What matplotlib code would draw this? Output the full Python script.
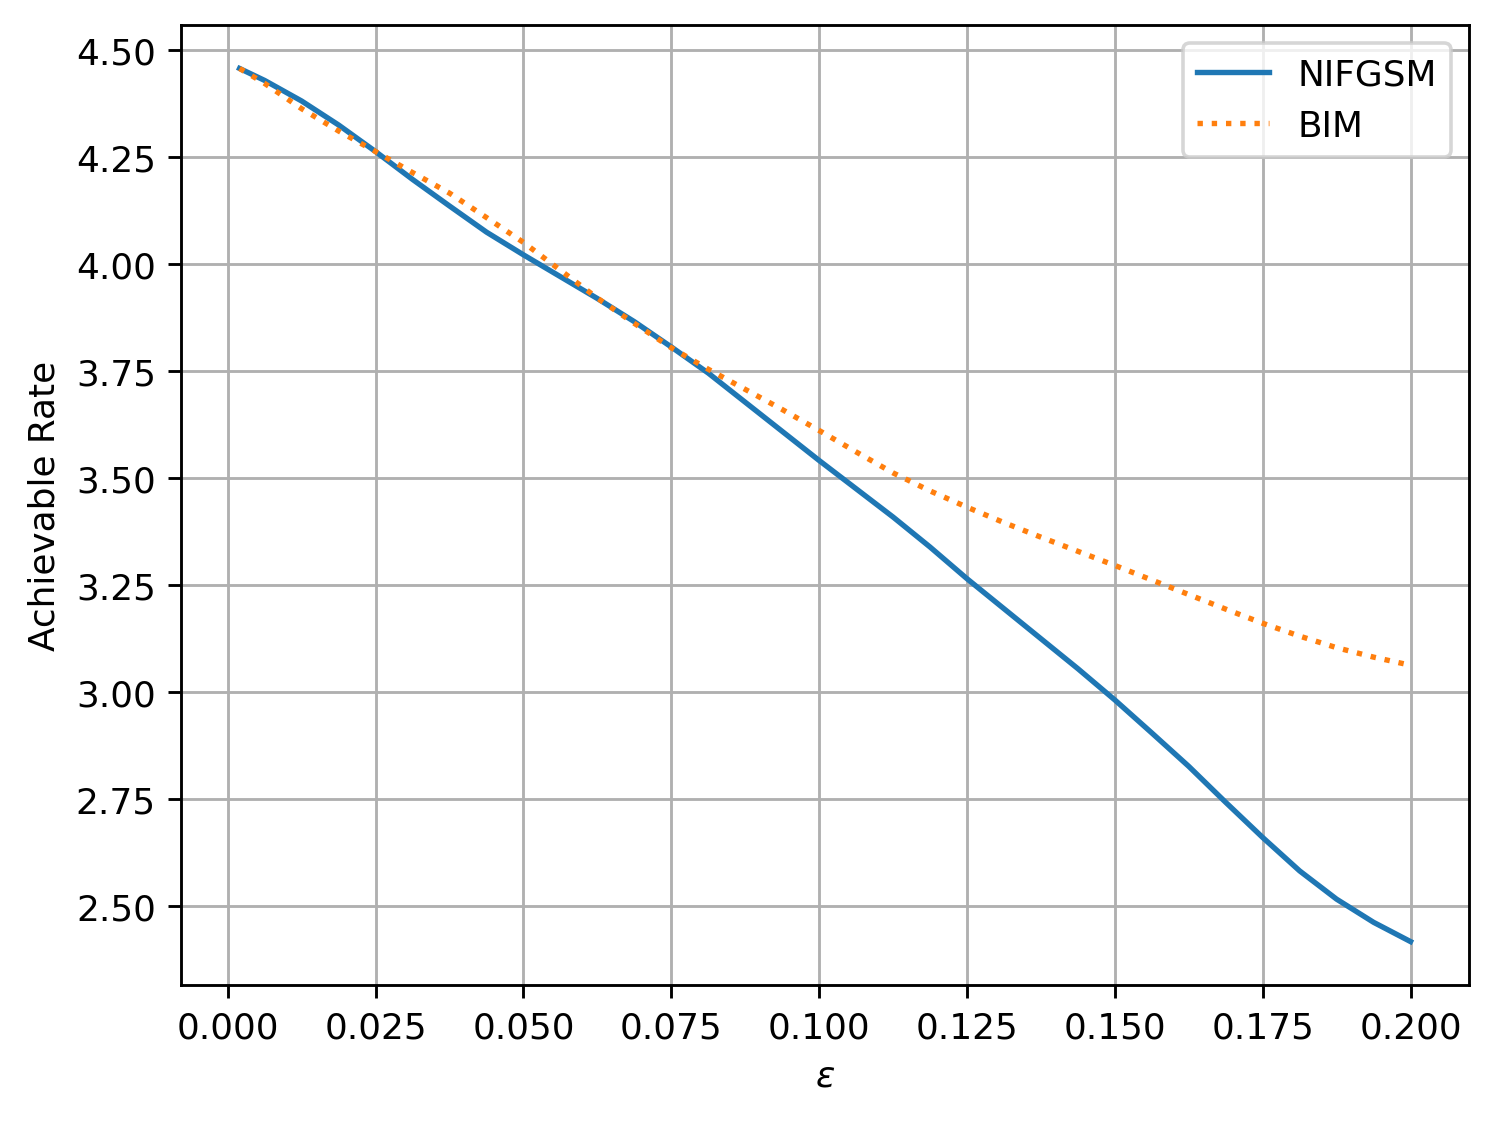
import matplotlib.pyplot as plt
import numpy as np

# epsilon values and achievable rate for the two attacks
eps = [0.002, 0.00625, 0.0125, 0.01875, 0.025, 0.03125, 0.0375, 0.04375,
       0.05, 0.05625, 0.0625, 0.06875, 0.075, 0.08125, 0.0875, 0.09375,
       0.1, 0.10625, 0.1125, 0.11875, 0.125, 0.13125, 0.1375, 0.14375,
       0.15, 0.15625, 0.1625, 0.16875, 0.175, 0.18125, 0.1875, 0.19375, 0.2]
rate_nifgsm = [4.456, 4.428, 4.380, 4.324, 4.262, 4.197, 4.135, 4.074,
               4.021, 3.970, 3.919, 3.865, 3.806, 3.745, 3.677, 3.609,
               3.541, 3.475, 3.409, 3.339, 3.265, 3.195, 3.125, 3.055,
               2.982, 2.905, 2.827, 2.743, 2.661, 2.583, 2.517, 2.463, 2.418]
rate_bim = [4.456, 4.421, 4.362, 4.310, 4.262, 4.213, 4.165, 4.108,
            4.050, 3.985, 3.920, 3.861, 3.804, 3.754, 3.707, 3.660,
            3.611, 3.561, 3.512, 3.470, 3.432, 3.396, 3.362, 3.329,
            3.296, 3.262, 3.228, 3.194, 3.161, 3.131, 3.104, 3.082, 3.063]

fig, ax = plt.subplots(figsize=(5.8, 4.35), dpi=1496 / 5.8)
ax.plot(eps, rate_nifgsm, label='NIFGSM')
ax.plot(eps, rate_bim, ':', label='BIM')
ax.set_xlabel(r'$\epsilon$')
ax.set_ylabel('Achievable Rate')
ax.grid(True)
ax.legend()
fig.subplots_adjust(left=0.121, right=0.982, top=0.977, bottom=0.121)
fig.savefig('out.png')
